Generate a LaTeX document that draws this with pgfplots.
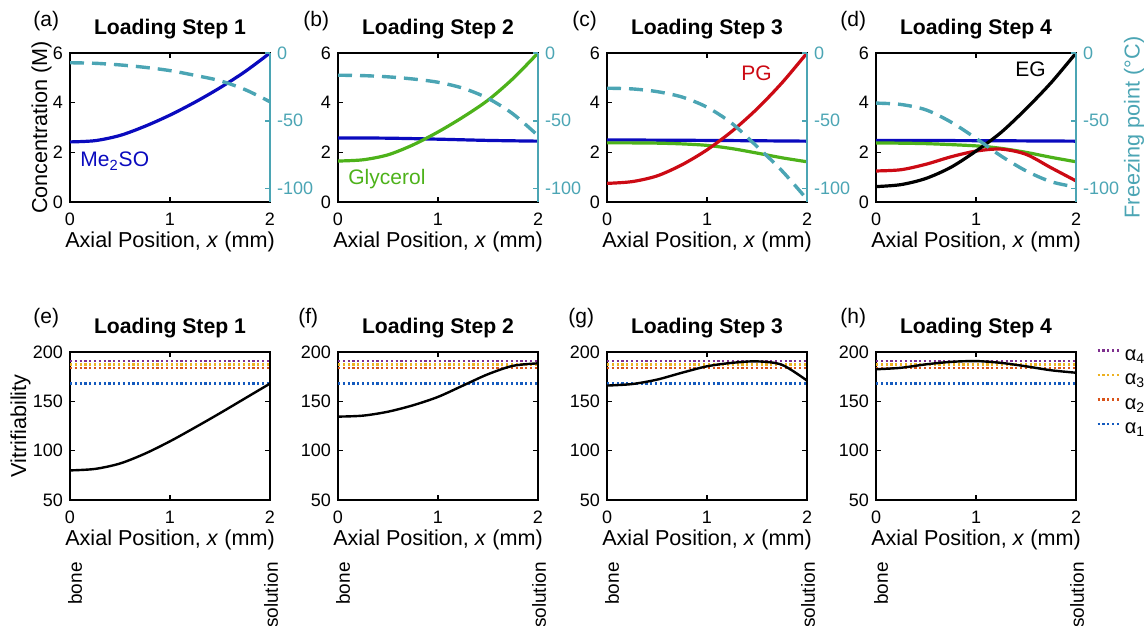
\documentclass[border=0pt]{standalone}
\usepackage{fontspec}
\setmainfont{Liberation Sans}
\usepackage{pgfplots}
\pgfplotsset{compat=1.18}

\definecolor{cblue}{RGB}{10,10,190}
\definecolor{cgreen}{RGB}{77,178,26}
\definecolor{cred}{RGB}{204,10,20}
\definecolor{cteal}{RGB}{75,165,180}
\definecolor{alfour}{RGB}{126,47,142}
\definecolor{althree}{RGB}{237,177,32}
\definecolor{altwo}{RGB}{217,83,25}
\definecolor{alone}{RGB}{20,90,190}

\pgfplotsset{
  panel/.style={scale only axis, width=100pt, xmin=0, xmax=2, xtick={0,1,2},
    tick align=inside, major tick length=2.5pt,
    axis line style={line width=1.2pt},
    every tick/.style={black, line width=0.8pt},
    tick label style={font=\fontsize{9}{10}\selectfont},
    label style={font=\fontsize{10.8}{12}\selectfont},
    /pgf/number format/assume math mode=true,
    xlabel={Axial Position, \textit{x} (mm)},
    xlabel style={at={(axis description cs:0.5,0)}, anchor=base, yshift=-22.5pt},
    xticklabel style={anchor=base, yshift=-11.5pt},
    title style={font=\bfseries\fontsize{10.6}{12}\selectfont, at={(axis description cs:0.5,1)}, anchor=base, yshift=3.2pt},
    ylabel style={at={(axis description cs:0,0.5)}, anchor=center},
  },
  top/.style={panel, height=74.5pt, ymin=0, ymax=6, ytick={0,2,4,6}, ytick pos=left},
  twin/.style={panel, height=74.5pt, hide x axis, axis y line*=right,
    ymin=-110, ymax=0, ytick={-100,-50,0}, ytick pos=right,
    y axis line style={cteal, line width=1.2pt, -},
    every tick/.style={cteal, line width=0.8pt},
    yticklabel style={text=cteal}},
  bot/.style={panel, height=74pt, ymin=50, ymax=200, ytick={50,100,150,200}},
  conc/.style={line width=1.6pt, smooth},
  frz/.style={cteal, line width=1.7pt, dash pattern=on 7pt off 4pt, smooth},
  vit/.style={black, line width=1.2pt, smooth},
  alph/.style={line width=1.2pt, dash pattern=on 1.1pt off 1.3pt},
}
\newcommand\lbl{\fontsize{10.5}{12}\selectfont}
\newcommand\alphalines{%
  \addplot[alph, alfour] coordinates {(0,191) (2,191)};
  \addplot[alph, althree] coordinates {(0,187.5) (2,187.5)};
  \addplot[alph, altwo] coordinates {(0,184) (2,184)};
  \addplot[alph, alone] coordinates {(0,168) (2,168)};
}

\begin{document}
\begin{tikzpicture}

% ---- top row: concentration and freezing point
\begin{axis}[top, name=a, at={(35pt,-101pt)}, title={Loading Step 1},
  ylabel={Concentration (M)}, ylabel style={yshift=14.25pt}]
\addplot[conc, cblue] coordinates {(0,2.42) (0.25,2.47) (0.5,2.68) (0.75,3.05) (1,3.5) (1.25,4.02) (1.5,4.6) (1.75,5.25) (2,6.0)};
\node[anchor=base west, inner sep=0pt, text=cblue, font=\lbl] at (axis cs:0.1,1.42) {Me\textsubscript{2}SO};
\end{axis}
\begin{axis}[twin, at={(35pt,-101pt)}]
\addplot[frz] coordinates {(0,-7.2) (0.25,-7.6) (0.5,-8.8) (0.75,-10.6) (1,-13) (1.25,-16.5) (1.5,-20.5) (1.75,-27) (2,-36)};
\end{axis}

\begin{axis}[top, name=b, at={(169pt,-101pt)}, title={Loading Step 2}]
\addplot[conc, cblue] coordinates {(0,2.58) (0.5,2.57) (1,2.53) (1.5,2.48) (2,2.45)};
\addplot[conc, cgreen] coordinates {(0,1.65) (0.25,1.7) (0.5,1.9) (0.75,2.3) (1,2.82) (1.25,3.42) (1.5,4.1) (1.75,4.97) (2,6)};
\node[anchor=base west, inner sep=0pt, text=cgreen, font=\lbl] at (axis cs:0.1,0.72) {Glycerol};
\end{axis}
\begin{axis}[twin, at={(169pt,-101pt)}]
\addplot[frz] coordinates {(0,-16.4) (0.25,-16.7) (0.5,-17.6) (0.75,-19.2) (1,-21.6) (1.25,-26) (1.5,-33.5) (1.75,-45) (2,-61)};
\end{axis}

\begin{axis}[top, name=c, at={(303.5pt,-101pt)}, title={Loading Step 3}]
\addplot[conc, cblue] coordinates {(0,2.5) (1,2.48) (2,2.45)};
\addplot[conc, cgreen] coordinates {(0,2.38) (0.25,2.38) (0.5,2.37) (0.75,2.34) (1,2.28) (1.25,2.15) (1.5,1.97) (1.75,1.78) (2,1.62)};
\addplot[conc, cred] coordinates {(0,0.75) (0.25,0.82) (0.5,1.05) (0.75,1.5) (1,2.1) (1.25,2.85) (1.5,3.75) (1.75,4.8) (2,6)};
\node[anchor=base west, inner sep=0pt, text=cred, font=\lbl] at (axis cs:1.34,4.91) {PG};
\end{axis}
\begin{axis}[twin, at={(303.5pt,-101pt)}]
\addplot[frz] coordinates {(0,-26) (0.25,-26.5) (0.5,-28.5) (0.75,-32.5) (1,-40) (1.25,-52) (1.5,-69) (1.75,-87) (2,-108)};
\end{axis}

\begin{axis}[top, name=d, at={(438pt,-101pt)}, title={Loading Step 4}]
\addplot[conc, cblue] coordinates {(0,2.48) (1,2.47) (2,2.45)};
\addplot[conc, cgreen] coordinates {(0,2.38) (0.5,2.35) (1,2.26) (1.25,2.16) (1.5,2.0) (1.75,1.8) (2,1.62)};
\addplot[conc, cred] coordinates {(0,1.25) (0.25,1.3) (0.5,1.52) (0.75,1.82) (1,2.05) (1.25,2.13) (1.5,1.92) (1.75,1.38) (2,0.85)};
\addplot[conc, black] coordinates {(0,0.62) (0.25,0.7) (0.5,0.95) (0.75,1.4) (1,2.05) (1.25,2.8) (1.5,3.75) (1.75,4.8) (2,6)};
\node[anchor=base west, inner sep=0pt, text=black, font=\lbl] at (axis cs:1.39,5.05) {EG};
\end{axis}
\begin{axis}[twin, at={(438pt,-101pt)}, ylabel={Freezing point (°C)},
  ylabel style={at={(axis description cs:1,0.5)}, anchor=center, yshift=-29pt, text=cteal}]
\addplot[frz] coordinates {(0,-37) (0.25,-38) (0.5,-42) (0.75,-51) (1,-63) (1.25,-76) (1.5,-87) (1.75,-95) (2,-99)};
\end{axis}

% ---- bottom row: vitrifiability
\begin{axis}[bot, name=e, at={(35pt,-250pt)}, title={Loading Step 1},
  ylabel={Vitrifiability}, ylabel style={yshift=24.75pt}]
\alphalines
\addplot[vit] coordinates {(0,80) (0.25,81.5) (0.5,87) (0.75,97) (1,109.5) (1.25,123.5) (1.5,138) (1.75,153) (2,168)};
\end{axis}

\begin{axis}[bot, name=f, at={(169pt,-250pt)}, title={Loading Step 2}]
\alphalines
\addplot[vit] coordinates {(0,134.5) (0.25,135.5) (0.5,139.5) (0.75,146) (1,154.5) (1.25,166) (1.5,177.5) (1.75,186) (2,188.5)};
\end{axis}

\begin{axis}[bot, name=g, at={(303.5pt,-250pt)}, title={Loading Step 3}]
\alphalines
\addplot[vit] coordinates {(0,166) (0.25,167.5) (0.5,172) (0.75,179) (1,185.5) (1.25,189) (1.5,190.5) (1.75,187) (2,171)};
\end{axis}

\begin{axis}[bot, name=h, at={(438pt,-250pt)}, title={Loading Step 4},
  legend style={draw=none, fill=none, at={(1.1,1.04)}, anchor=north west, inner sep=0pt,
    font=\fontsize{10}{11}\selectfont, row sep=3.25pt,
    nodes={inner sep=0pt, text height=7pt, text depth=2pt},
    /tikz/every odd column/.append style={column sep=2pt}},
  legend cell align=left,
  legend image code/.code={\draw[#1] (0pt,2.5pt) -- (11pt,2.5pt);}]
\alphalines
\addplot[vit] coordinates {(0,182.5) (0.25,184) (0.5,187.5) (0.75,190) (1,190.8) (1.25,189) (1.5,185.5) (1.75,181.5) (2,179)};
\legend{α\textsubscript{4}, α\textsubscript{3}, α\textsubscript{2}, α\textsubscript{1}}
\end{axis}

% ---- panel letters and end labels
\begin{scope}[every node/.style={font=\lbl, inner sep=0pt}]
\node[anchor=west] at (16.5pt,-10.75pt) {(a)};
\node[anchor=west] at (151.5pt,-10.75pt) {(b)};
\node[anchor=west] at (286pt,-10.75pt) {(c)};
\node[anchor=west] at (420pt,-10.75pt) {(d)};
\node[anchor=west] at (16.5pt,-159.25pt) {(e)};
\node[anchor=west] at (149pt,-159.25pt) {(f)};
\node[anchor=west] at (284pt,-159.25pt) {(g)};
\node[anchor=west] at (420pt,-159.25pt) {(h)};
\end{scope}
\begin{scope}[every node/.style={font=\fontsize{9.5}{11}\selectfont, inner sep=0pt, rotate=90, anchor=east}]
\foreach \p in {e,f,g,h}{
  \node at ([xshift=2.5pt, yshift=-31pt]\p.south west) {bone};
  \node at ([xshift=0.5pt, yshift=-31pt]\p.south east) {solution};
}
\end{scope}

\pgfresetboundingbox
\path[use as bounding box] (0,0) rectangle (573pt,-313pt);
\end{tikzpicture}
\end{document}
